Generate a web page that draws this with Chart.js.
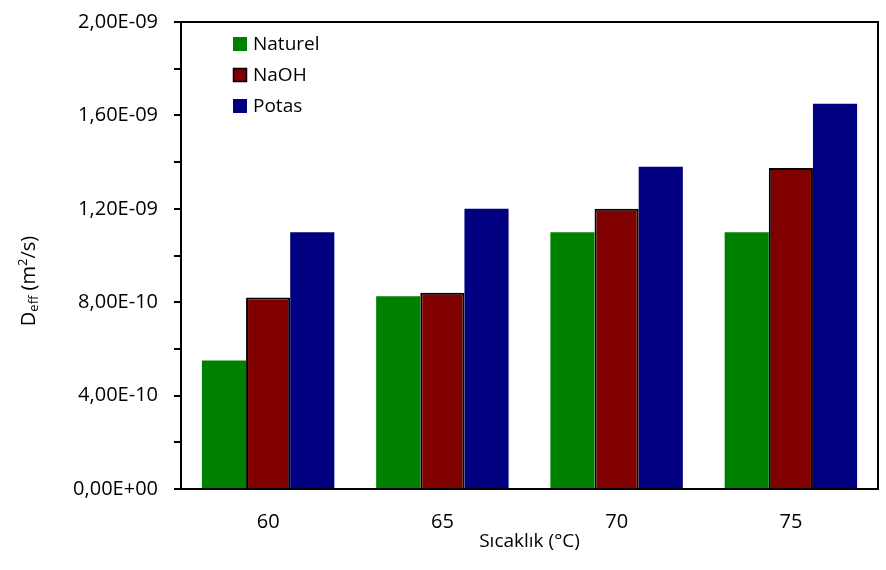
<!DOCTYPE html>
<html>
<head>
<meta charset="utf-8">
<script src="https://cdn.jsdelivr.net/npm/chart.js@4"></script>
<style>
  html, body { margin: 0; padding: 0; background: #fff; }
  #wrap { width: 886px; height: 570px; position: relative; }
</style>
</head>
<body>
<div id="wrap"><canvas id="chart"></canvas></div>
<script>
var categories = ['60', '65', '70', '75'];
var naturel = [5.5e-10, 8.25e-10, 1.1e-9, 1.1e-9];
var naoh = [8.2e-10, 8.4e-10, 1.2e-9, 1.375e-9];
var potas = [1.1e-9, 1.2e-9, 1.38e-9, 1.65e-9];
var seriesNames = ['Naturel', 'NaOH', 'Potas'];

var FONT = '"Open Sans"';
var FS = 20;

function sciLabel(v) {
    var s = v.toExponential(2); // e.g. 2.00e-9
    var parts = s.split('e');
    var exp = parseInt(parts[1], 10);
    var sign = exp < 0 ? '-' : '+';
    var e = Math.abs(exp);
    return parts[0].replace('.', ',') + 'E' + sign + (e < 10 ? '0' + e : e);
}

// box around the plot area
var frame = {
    id: 'frame',
    afterDraw: function(chart) {
        var a = chart.chartArea, c = chart.ctx;
        c.save();
        c.strokeStyle = '#000';
        c.lineWidth = 2;
        c.strokeRect(a.left, a.top, a.right - a.left, a.bottom - a.top);
        c.restore();
    }
};

// legend inside plot + rotated y title with sub/superscript
var extras = {
    id: 'extras',
    afterDraw: function(chart) {
        var c = chart.ctx;
        c.save();
        c.font = (FS - 1) + 'px ' + FONT;
        c.textBaseline = 'middle';
        chart.data.datasets.forEach(function(ds, i) {
            var y = 44 + i * 31;
            c.fillStyle = ds.backgroundColor;
            c.fillRect(233, y - 7, 14, 14);
            if (ds.borderWidth) {
                c.strokeStyle = '#000';
                c.lineWidth = 1.5;
                c.strokeRect(233.5, y - 6.5, 13, 13);
            }
            c.fillStyle = '#000';
            c.fillText(ds.label, 253, y + 1);
        });

        // y axis title
        c.translate(29, 281);
        c.rotate(-Math.PI / 2);
        var big = FS + 'px ' + FONT, small = '13px ' + FONT;
        var pieces = [
            ['D', big, 0], ['eff', small, 5], [' (m', big, 0], ['2', small, -6], ['/s)', big, 0]
        ];
        var total = 0;
        pieces.forEach(function(p) { c.font = p[1]; total += c.measureText(p[0]).width; });
        var x = -total / 2;
        c.textAlign = 'left';
        pieces.forEach(function(p) {
            c.font = p[1];
            c.fillText(p[0], x, p[2]);
            x += c.measureText(p[0]).width;
        });
        c.restore();
    }
};

new Chart(document.getElementById('chart'), {
    type: 'bar',
    data: {
        labels: categories,
        datasets: [
            { label: seriesNames[0], data: naturel, backgroundColor: '#008000', borderWidth: 0 },
            { label: seriesNames[1], data: naoh, backgroundColor: '#800000', borderColor: '#000', borderWidth: 2, borderSkipped: 'bottom' },
            { label: seriesNames[2], data: potas, backgroundColor: '#000080', borderWidth: 0 }
        ]
    },
    options: {
        responsive: true,
        maintainAspectRatio: false,
        animation: false,
        layout: { padding: { top: 22, right: 8, left: 0, bottom: 0 } },
        plugins: {
            legend: { display: false },
            tooltip: { enabled: false },
            title: { display: false }
        },
        datasets: {
            bar: { categoryPercentage: 0.76, barPercentage: 1.0 }
        },
        scales: {
            x: {
                grid: { display: false, drawTicks: false },
                border: { display: true, color: '#000', width: 2 },
                ticks: {
                    color: '#000',
                    font: { family: FONT, size: FS },
                    padding: 21
                },
                title: {
                    display: true,
                    text: 'Sıcaklık (°C)',
                    color: '#000',
                    font: { family: FONT, size: FS - 1 },
                    padding: { top: 0, bottom: 17 }
                },
                afterFit: function(scale) { scale.height = 81; }
            },
            y: {
                min: 0,
                max: 2e-9,
                grid: {
                    display: true,
                    drawOnChartArea: false,
                    drawTicks: true,
                    tickLength: 7,
                    color: '#000',
                    lineWidth: 2
                },
                border: { display: true, color: '#000', width: 2 },
                ticks: {
                    stepSize: 2e-10,
                    autoSkip: false,
                    color: '#000',
                    font: { family: FONT, size: FS },
                    padding: 16,
                    callback: function(value, index) {
                        return index % 2 === 0 ? sciLabel(value) : '';
                    }
                },
                afterFit: function(scale) {
                    scale.width = 181;
                    scale.paddingTop = 0;
                    scale.paddingBottom = 0;
                }
            }
        }
    },
    plugins: [frame, extras]
});
</script>
</body>
</html>
